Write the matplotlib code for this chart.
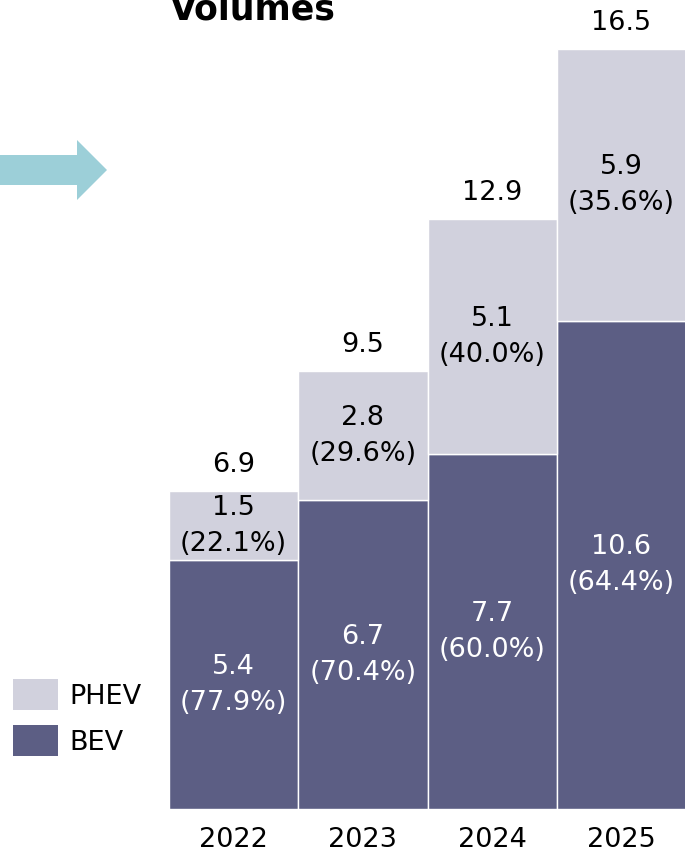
import numpy as np
import matplotlib.pyplot as plt
from matplotlib.patches import Polygon, Patch

# Datos
years = ['2022', '2023', '2024', '2025']
bev = [5.4, 6.7, 7.7, 10.6]
phev = [1.5, 2.8, 5.1, 5.9]
totals = [6.9, 9.5, 12.9, 16.5]
bev_share = [77.9, 70.4, 60.0, 64.4]
phev_share = [22.1, 29.6, 40.0, 35.6]

c_bev = '#5c5e84'
c_phev = '#d1d1dd'
c_arrow = '#9ccfd8'

plt.rcParams['font.family'] = ['DejaVu Sans']

fig = plt.figure(figsize=(6.85, 8.52), dpi=100)
ax = fig.add_axes([169 / 685, 43 / 852, 517 / 685, 809 / 852])

x = np.arange(len(years))
ax.bar(x, bev, width=1, color=c_bev, edgecolor='white', linewidth=1)
ax.bar(x, phev, width=1, bottom=bev, color=c_phev, edgecolor='white',
       linewidth=1)

fs = 19.5
for i in range(len(years)):
    ax.text(x[i], bev[i] / 2, f'{bev[i]:.1f}\n({bev_share[i]:.1f}%)',
            ha='center', va='center', color='white', fontsize=fs,
            linespacing=1.5)
    ax.text(x[i], bev[i] + phev[i] / 2,
            f'{phev[i]:.1f}\n({phev_share[i]:.1f}%)',
            ha='center', va='center', color='black', fontsize=fs,
            linespacing=1.5)
    ax.text(x[i], bev[i] + phev[i] + 0.57, f'{totals[i]:.1f}',
            ha='center', va='center', color='black', fontsize=fs)

ax.set_xlim(-0.5, 3.5)
ax.set_ylim(0, 17.56)
ax.set_xticks(x)
ax.set_xticklabels(years, fontsize=fs)
ax.tick_params(axis='x', length=0, pad=13)
ax.set_yticks([])
for s in ax.spines.values():
    s.set_visible(False)

# Titulo cortado arriba
fig.text(253 / 685, 1 - 20 / 852, 'Volumes', ha='center', va='baseline',
         fontsize=25, fontweight='bold')

# Flecha decorativa
pts = [(0, 155), (77, 155), (77, 140), (107, 170), (77, 200), (77, 185),
       (0, 185)]
pts = [(px / 685, 1 - py / 852) for px, py in pts]
fig.patches.append(Polygon(pts, closed=True, facecolor=c_arrow,
                           edgecolor='none', transform=fig.transFigure))

handles = [Patch(facecolor=c_phev, label='PHEV'),
           Patch(facecolor=c_bev, label='BEV')]
fig.legend(handles=handles, loc='upper left',
           bbox_to_anchor=(13 / 685, 1 - 679 / 852), frameon=False,
           fontsize=fs, handlelength=1.65, handleheight=1.4,
           handletextpad=0.45, labelspacing=0.55, borderpad=0,
           borderaxespad=0)

fig.savefig('out.png', dpi=100)
